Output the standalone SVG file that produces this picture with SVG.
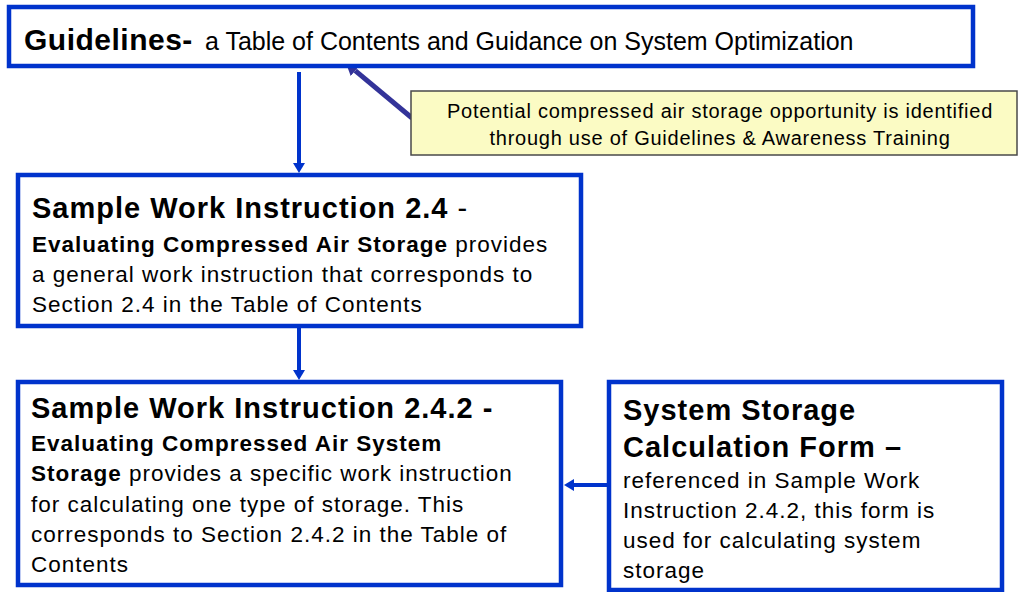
<svg xmlns="http://www.w3.org/2000/svg" width="1018" height="592" viewBox="0 0 1018 592">
<style>
.box{fill:#ffffff;stroke:#0033cc;stroke-width:4.5}
.note{fill:#fbfbc4;stroke:#4a4a4a;stroke-width:1.5}
.conn{stroke:#0033cc;stroke-width:4;fill:none}
.conn2{stroke:#333399;stroke-width:5;fill:none}
text{font-family:"Liberation Sans",Arial,sans-serif;fill:#000}
.t{font-size:29px;font-weight:bold;letter-spacing:1px}
.b{font-size:22.5px;letter-spacing:1px}
.bb{font-weight:bold}
.n{font-size:20px;letter-spacing:0.75px}
</style>
<defs>
<marker id="ah" viewBox="0 0 10 12" refX="0" refY="6" markerWidth="10" markerHeight="12" markerUnits="userSpaceOnUse" orient="auto">
<path d="M0,0 L10,6 L0,12 z" fill="#0033cc"/>
</marker>
<marker id="ah2" viewBox="0 0 12 14" refX="0" refY="7" markerWidth="12" markerHeight="14" markerUnits="userSpaceOnUse" orient="auto">
<path d="M0,0 L12,7 L0,14 z" fill="#333399"/>
</marker>
</defs>
<g id="connectors">
<line class="conn" x1="299" y1="72" x2="299" y2="163" marker-end="url(#ah)"/>
<line class="conn" x1="299" y1="328" x2="299" y2="370" marker-end="url(#ah)"/>
<line class="conn" x1="607" y1="485" x2="574" y2="485" marker-end="url(#ah)"/>
<line class="conn2" x1="412" y1="118" x2="355.2" y2="70.7" marker-end="url(#ah2)"/>
</g>
<g id="guidelines">
<rect class="box" x="9" y="7" width="964" height="59"/>
<text x="24" y="50"><tspan font-size="30" font-weight="bold" letter-spacing="0.5">Guidelines-</tspan><tspan x="205" font-size="25">a Table of Contents and Guidance on System Optimization</tspan></text>
</g>
<g id="note">
<rect class="note" x="411" y="91" width="606" height="64"/>
<text class="n" x="720" y="118" text-anchor="middle">Potential compressed air storage opportunity is identified</text>
<text class="n" x="720" y="145" text-anchor="middle">through use of Guidelines &amp; Awareness Training</text>
</g>
<g id="swi24">
<rect class="box" x="18" y="175" width="563" height="151"/>
<text class="t" x="32" y="218">Sample Work Instruction 2.4<tspan font-weight="normal"> -</tspan></text>
<text class="b" x="32" y="252"><tspan class="bb">Evaluating Compressed Air Storage</tspan> provides</text>
<text class="b" x="32" y="282">a general work instruction that corresponds to</text>
<text class="b" x="32" y="312">Section 2.4 in the Table of Contents</text>
</g>
<g id="swi242">
<rect class="box" x="18" y="382" width="543" height="203"/>
<text class="t" x="31" y="418">Sample Work Instruction 2.4.2 -</text>
<text class="b bb" x="31" y="451">Evaluating Compressed Air System</text>
<text class="b" x="31" y="481"><tspan class="bb">Storage</tspan> provides a specific work instruction</text>
<text class="b" x="31" y="512">for calculating one type of storage. This</text>
<text class="b" x="31" y="542">corresponds to Section 2.4.2 in the Table of</text>
<text class="b" x="31" y="572">Contents</text>
</g>
<g id="form">
<rect class="box" x="609" y="382" width="393" height="208"/>
<text class="t" x="623" y="420">System Storage</text>
<text class="t" x="623" y="457">Calculation Form –</text>
<text class="b" x="623" y="488">referenced in Sample Work</text>
<text class="b" x="623" y="518">Instruction 2.4.2, this form is</text>
<text class="b" x="623" y="548">used for calculating system</text>
<text class="b" x="623" y="578">storage</text>
</g>
</svg>
